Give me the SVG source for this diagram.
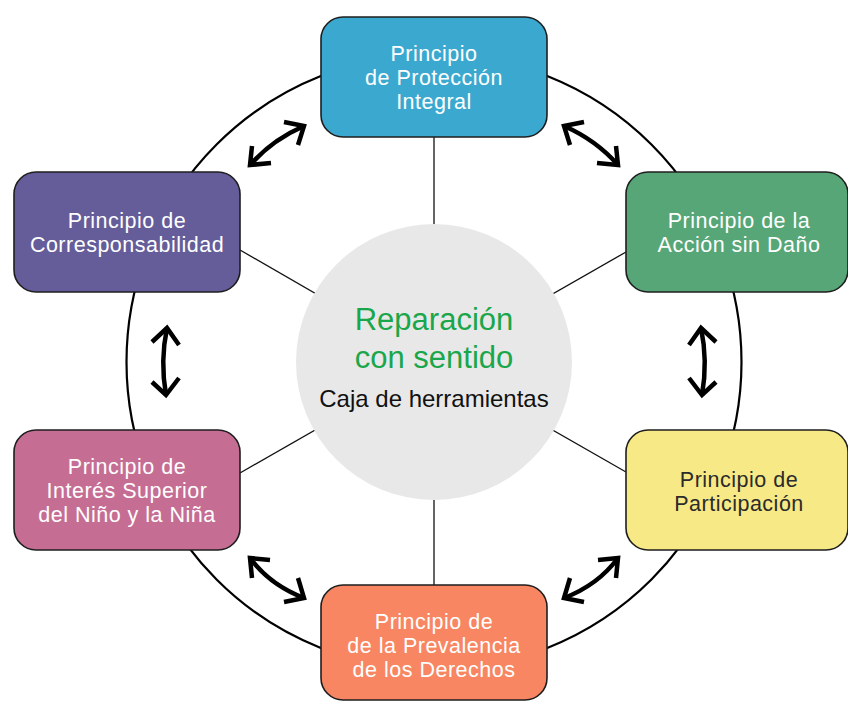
<svg xmlns="http://www.w3.org/2000/svg" width="848" height="701" viewBox="0 0 848 701">
<style>
.box{stroke:#1e1e1e;stroke-width:1.6}
.t{font-family:"Liberation Sans",Arial,sans-serif;font-size:21.5px;letter-spacing:0.5px;text-anchor:middle;fill:#ffffff}
.dark{fill:#2b2b2b}
.spoke{stroke:#111;stroke-width:1.3;fill:none}
.arr{stroke:#000;stroke-width:4.5;fill:none;stroke-linejoin:miter;stroke-linecap:butt}
.c1{font-family:"Liberation Sans",Arial,sans-serif;font-size:31px;text-anchor:middle;fill:#1aa64b}
.c2{font-family:"Liberation Sans",Arial,sans-serif;font-size:24px;text-anchor:middle;fill:#111}
</style>
<rect width="848" height="701" fill="#ffffff"/>
<g id="ring">
<circle cx="434" cy="362" r="307.5" fill="none" stroke="#000" stroke-width="2.2"/>
</g>
<g id="connectors">
<line class="spoke" x1="434" y1="362" x2="434" y2="137"/>
<line class="spoke" x1="434" y1="362" x2="434" y2="585"/>
<line class="spoke" x1="434" y1="362" x2="240" y2="250"/>
<line class="spoke" x1="434" y1="362" x2="240" y2="473"/>
<line class="spoke" x1="434" y1="362" x2="626" y2="252"/>
<line class="spoke" x1="434" y1="362" x2="626" y2="472"/>
<path class="arr" d="M250,165 Q272,140 304,126"/>
<polyline class="arr" points="284,122 304,126 298,145"/>
<polyline class="arr" points="252,146 250,165 271,163"/>
<path class="arr" d="M618,165 Q596,140 564,126"/>
<polyline class="arr" points="584,122 564,126 570,145"/>
<polyline class="arr" points="616,146 618,165 597,163"/>
<path class="arr" d="M167,328 Q160,361 166,395"/>
<polyline class="arr" points="152,342 167,328 179,345"/>
<polyline class="arr" points="152,382 166,395 179,378"/>
<path class="arr" d="M701,328 Q708,361 702,395"/>
<polyline class="arr" points="716,342 701,328 689,345"/>
<polyline class="arr" points="716,382 702,395 689,378"/>
<path class="arr" d="M250,558 Q270,585 304,598"/>
<polyline class="arr" points="270,560 250,558 252,578"/>
<polyline class="arr" points="298,578 304,598 284,602"/>
<path class="arr" d="M618,558 Q598,585 564,598"/>
<polyline class="arr" points="598,560 618,558 616,578"/>
<polyline class="arr" points="570,578 564,598 584,602"/>
</g>
<g id="center">
<circle cx="434" cy="362" r="138" fill="#e8e8e8"/>
<text class="c1" x="434" y="330">Reparación</text>
<text class="c1" x="434" y="368">con sentido</text>
<text class="c2" x="434" y="407">Caja de herramientas</text>
</g>
<g id="proteccion">
<rect class="box" x="321" y="17" width="226" height="120" rx="22" fill="#3ba9cf"/>
<text class="t" x="434" y="61">Principio</text>
<text class="t" x="434" y="85">de Protección</text>
<text class="t" x="434" y="109">Integral</text>
</g>
<g id="accion">
<rect class="box" x="626" y="172" width="222" height="120" rx="22" fill="#57a677"/>
<text class="t" x="739" y="228">Principio de la</text>
<text class="t" x="739" y="252">Acción sin Daño</text>
</g>
<g id="participacion">
<rect class="box" x="626" y="430" width="222" height="120" rx="22" fill="#f7e985"/>
<text class="t dark" x="739" y="487">Principio de</text>
<text class="t dark" x="739" y="511">Participación</text>
</g>
<g id="prevalencia">
<rect class="box" x="321" y="585" width="226" height="115" rx="22" fill="#f88662"/>
<text class="t" x="434" y="629">Principio de</text>
<text class="t" x="434" y="653">de la Prevalencia</text>
<text class="t" x="434" y="677">de los Derechos</text>
</g>
<g id="interes">
<rect class="box" x="14" y="430" width="226" height="120" rx="22" fill="#c66d94"/>
<text class="t" x="127" y="474">Principio de</text>
<text class="t" x="127" y="498">Interés Superior</text>
<text class="t" x="127" y="522">del Niño y la Niña</text>
</g>
<g id="corresponsabilidad">
<rect class="box" x="14" y="172" width="226" height="120" rx="22" fill="#655d99"/>
<text class="t" x="127" y="228">Principio de</text>
<text class="t" x="127" y="252">Corresponsabilidad</text>
</g>
</svg>
